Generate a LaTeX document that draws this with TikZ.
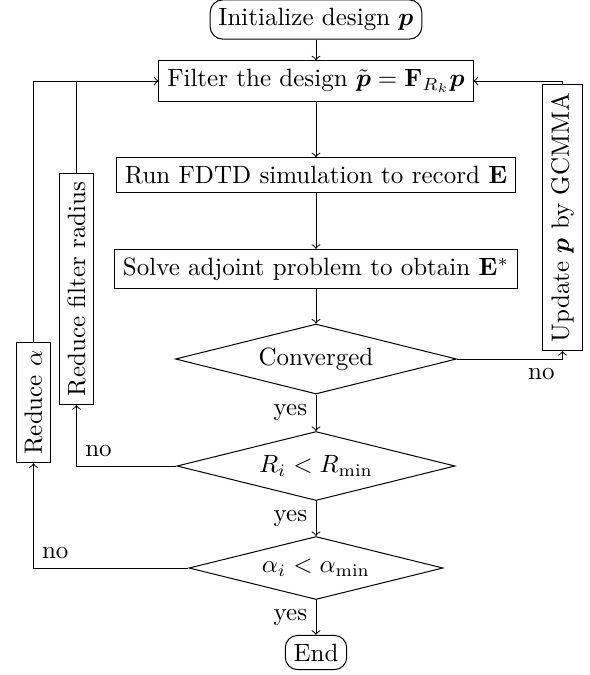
\documentclass[tikz,border=0pt]{standalone}
\usepackage{amsmath}
\usetikzlibrary{shapes.geometric}
\begin{document}
\begin{tikzpicture}[x=0.4pt,y=-0.4pt,
  box/.style={draw,rectangle},
  term/.style={draw,rectangle,rounded corners=5pt},
  decision/.style={draw,diamond,aspect=4,inner sep=0pt},
  vbox/.style={draw,rectangle,rotate=90},
  every path/.style={line width=0.4pt}]
\useasboundingbox (0,0) rectangle (589,675);
\node[term] (init) at (316,19.5) {Initialize design $\boldsymbol{p}$};
\node[box] (filt) at (316,81) {Filter the design $\tilde{\boldsymbol{p}}=\mathbf{F}_{R_k}\boldsymbol{p}$};
\node[box] (run) at (316,175) {Run FDTD simulation to record $\mathbf{E}$};
\node[box] (solve) at (316,269) {Solve adjoint problem to obtain $\mathbf{E}^*$};
\node[decision,minimum width=112.4pt,minimum height=28pt] (conv) at (316,359) {Converged};
\node[decision,minimum width=111.2pt,minimum height=27.6pt] (rad) at (316,466) {$R_i<R_{\min}$};
\node[decision,minimum width=101.6pt,minimum height=25.2pt] (alp) at (316,568) {$\alpha_i<\alpha_{\min}$};
\node[term] (end) at (316,652.5) {End};
\node[vbox] (upd) at (562.5,217.5) {Update $\boldsymbol{p}$ by GCMMA};
\node[vbox] (redr) at (76.5,289) {Reduce filter radius};
\node[vbox] (reda) at (33.5,402.5) {Reduce $\alpha$};
\draw[->] (init) -- (filt);
\draw[->] (filt) -- (run);
\draw[->] (run) -- (solve);
\draw[->] (solve) -- (conv);
\draw[->] (conv) -- node[left] {yes} (rad);
\draw[->] (rad) -- node[left] {yes} (alp);
\draw[->] (alp) -- node[left] {yes} (end);
\draw[->] (conv.east) -| node[pos=0.4,below] {no} (upd.west);
\draw[->] (upd.east) |- (filt.east);
\draw[->] (rad.west) -| node[pos=0.39,above] {no} (redr.west);
\draw (redr.east) |- (filt.west);
\draw[->] (alp.west) -| node[pos=0.43,above] {no} (reda.west);
\draw[->] (reda.east) |- (filt.west);
\end{tikzpicture}
\end{document}
